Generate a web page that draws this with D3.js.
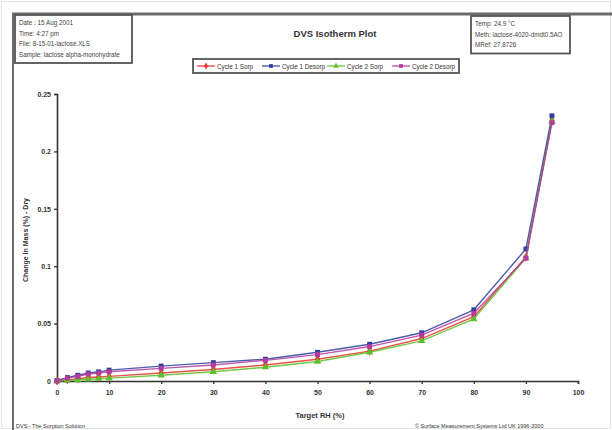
<!DOCTYPE html>
<html lang="en">
<head>
<meta charset="utf-8">
<title>DVS Isotherm Plot</title>
<script src="https://cdn.jsdelivr.net/npm/d3@7"></script>
<style>
  html, body { margin: 0; padding: 0; background: #fff; }
  svg { display: block; font-family: "Liberation Sans", Arial, sans-serif; }
</style>
</head>
<body>
<script>
// data
let rhSorp = [0, 2, 4, 6, 8, 10, 20, 30, 40, 50, 60, 70, 80, 90, 95];
let rhDesorp = [95, 90, 80, 70, 60, 50, 40, 30, 20, 10, 8, 6, 4, 2, 0];
let c1Sorp = [0, 0.001, 0.002, 0.003, 0.0035, 0.004, 0.007, 0.010, 0.014, 0.019, 0.026, 0.037, 0.056, 0.108, 0.227];
let c1Desorp = [0.231, 0.115, 0.062, 0.042, 0.032, 0.025, 0.019, 0.016, 0.013, 0.0095, 0.008, 0.007, 0.005, 0.003, 0.0005];
let c2Sorp = [0, 0.0005, 0.001, 0.0015, 0.002, 0.0025, 0.005, 0.008, 0.012, 0.017, 0.025, 0.035, 0.054, 0.107, 0.226];
let c2Desorp = [0.225, 0.107, 0.059, 0.040, 0.030, 0.023, 0.018, 0.014, 0.011, 0.008, 0.007, 0.006, 0.004, 0.0025, 0];
let seriesNames = ["Cycle 1 Sorp", "Cycle 1 Desorp", "Cycle 2 Sorp", "Cycle 2 Desorp"];
let xTicks = [0, 10, 20, 30, 40, 50, 60, 70, 80, 90, 100];
let yTicks = [0, 0.05, 0.1, 0.15, 0.2, 0.25];
let infoLeft = ["Date : 15 Aug 2001", "Time: 4:27 pm", "File: 8-15-01-lactose.XLS", "Sample: lactose alpha-monohydrate"];
let infoRight = ["Temp: 24.9 °C", "Meth: lactose-4020-dmdt0.5AO", "MRef: 27.8726"];

let w = 612, h = 430;
let svg = d3.select("body").append("svg").attr("width", w).attr("height", h);

// frame
svg.append("rect").attr("x", 1.5).attr("y", 1.5).attr("width", w - 3).attr("height", h - 3)
  .attr("fill", "none").attr("stroke", "#e4e4e4");
svg.append("line").attr("x1", 12).attr("x2", w).attr("y1", 14).attr("y2", 14)
  .attr("stroke", "#6e6a6a").attr("stroke-width", 3);
svg.append("line").attr("x1", 13).attr("x2", 13).attr("y1", 14).attr("y2", h)
  .attr("stroke", "#6e6a6a").attr("stroke-width", 2);

// info boxes
function infoBox(x, y, bw, lines) {
  svg.append("rect").attr("x", x).attr("y", y).attr("width", bw).attr("height", lines.length * 10.5 + 6)
    .attr("fill", "#fff").attr("stroke", "#555").attr("stroke-width", 1.8);
  svg.selectAll(null).data(lines).enter().append("text")
    .attr("x", x + 4).attr("y", (d, i) => y + 10 + i * 10.5)
    .attr("font-size", 6.3).attr("fill", "#444").text(d => d);
}
infoBox(15, 15, 117, infoLeft);
infoBox(471, 16, 99, infoRight);

// title
svg.append("text").attr("x", 335).attr("y", 37).attr("text-anchor", "middle")
  .attr("font-size", 9.5).attr("font-weight", "bold").attr("fill", "#333").text("DVS Isotherm Plot");

let m = { left: 57, right: 578, top: 94, bottom: 381 };
let x = d3.scaleLinear().domain([0, 100]).range([m.left, m.right]);
let y = d3.scaleLinear().domain([0, 0.25]).range([m.bottom, m.top]);

let series = [
  { name: seriesNames[0], xs: rhSorp, ys: c1Sorp, color: "#e8322a", shape: d3.symbolDiamond },
  { name: seriesNames[1], xs: rhDesorp, ys: c1Desorp, color: "#2f3f9e", shape: d3.symbolSquare },
  { name: seriesNames[2], xs: rhSorp, ys: c2Sorp, color: "#5cc02a", shape: d3.symbolTriangle },
  { name: seriesNames[3], xs: rhDesorp, ys: c2Desorp, color: "#b43a9c", shape: d3.symbolSquare }
];

// legend
let lg = svg.append("g");
lg.append("rect").attr("x", 193).attr("y", 59).attr("width", 266).attr("height", 14)
  .attr("fill", "#fff").attr("stroke", "#555").attr("stroke-width", 1.8);
series.forEach((s, i) => {
  let lx = 197 + i * 65;
  lg.append("line").attr("x1", lx).attr("x2", lx + 18).attr("y1", 66).attr("y2", 66)
    .attr("stroke", s.color).attr("stroke-width", 1.2);
  lg.append("path").attr("d", d3.symbol().type(s.shape).size(14)())
    .attr("transform", `translate(${lx + 9},66)`).attr("fill", s.color);
  lg.append("text").attr("x", lx + 20).attr("y", 68.5).attr("font-size", 6.3)
    .attr("fill", "#333").text(s.name);
});

// axes
let xAxis = d3.axisBottom(x).tickValues(xTicks).tickSize(3).tickFormat(d3.format("d"));
let yAxis = d3.axisLeft(y).tickValues(yTicks).tickSize(3).tickFormat(d => d === 0 ? "0" : String(+d.toFixed(2)));

let gx = svg.append("g").attr("transform", `translate(0,${m.bottom})`).call(xAxis);
let gy = svg.append("g").attr("transform", `translate(${m.left},0)`).call(yAxis);
[gx, gy].forEach(g => {
  g.select(".domain").attr("stroke", "#333").attr("stroke-width", 1.6);
  g.selectAll(".tick line").attr("stroke", "#333").attr("stroke-width", 1.3);
  g.selectAll("text").attr("font-size", 7).attr("font-weight", "bold").attr("fill", "#333")
    .attr("font-family", "Liberation Sans, Arial, sans-serif");
});
gx.selectAll("text").attr("dy", "1.2em");

svg.append("text").attr("x", 320).attr("y", 418).attr("text-anchor", "middle")
  .attr("font-size", 7.5).attr("font-weight", "bold").attr("fill", "#333").text("Target RH (%)");
svg.append("text").attr("transform", "translate(28,240) rotate(-90)").attr("text-anchor", "middle")
  .attr("font-size", 7).attr("font-weight", "bold").attr("fill", "#333").text("Change In Mass (%) - Dry");

// series
let line = d3.line().x(d => x(d[0])).y(d => y(d[1]));
series.forEach(s => {
  let pts = s.xs.map((v, i) => [v, s.ys[i]]);
  svg.append("path").datum(pts).attr("d", line).attr("fill", "none")
    .attr("stroke", s.color).attr("stroke-width", 1.4).attr("opacity", 0.85);
  svg.selectAll(null).data(pts).enter().append("path")
    .attr("d", d3.symbol().type(s.shape).size(24)())
    .attr("transform", d => `translate(${x(d[0])},${y(d[1])})`)
    .attr("fill", s.color);
});

// footer
svg.append("text").attr("x", 16).attr("y", 428).attr("font-size", 5.5).attr("fill", "#333")
  .text("DVS - The Sorption Solution");
svg.append("text").attr("x", 415).attr("y", 428).attr("font-size", 5.5).attr("fill", "#333")
  .text("© Surface Measurement Systems Ltd UK 1996-2000");
</script>
</body>
</html>
